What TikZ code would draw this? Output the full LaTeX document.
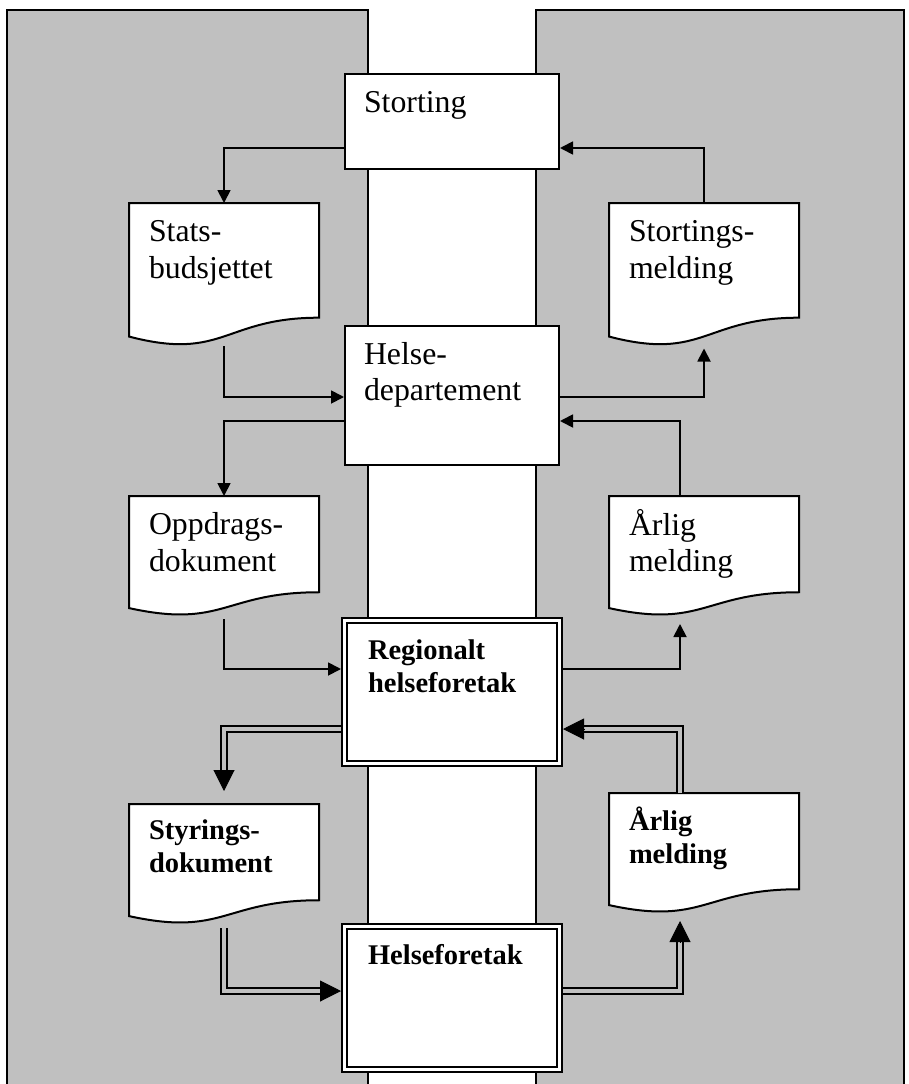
\documentclass[tikz,border=0pt]{standalone}
\usepackage{fontspec}
\setmainfont{Liberation Serif}
\usetikzlibrary{arrows.meta,calc}

\pgfdeclarelayer{panels}
\pgfdeclarelayer{shapes}
\pgfsetlayers{panels,shapes,main}

\definecolor{panelgray}{HTML}{C0C0C0}

\tikzset{
  every node/.style={inner sep=0pt, outer sep=0pt},
  panel/.style={fill=panelgray},
  paneledge/.style={draw, line width=2pt},
  plainbox/.style={rectangle, draw, fill=white, line width=2pt, outer sep=1pt},
  heavybox/.style={rectangle, draw, fill=white, line width=2.3pt,
    double=white, double distance=2.4pt, outer sep=3.5pt},
  docnode/.style={rectangle, anchor=north west, minimum width=190pt},
  docline/.style={draw, fill=white, line width=2pt, line join=miter},
  txt/.style={anchor=north west, align=left, font=\fontsize{31.8}{36.5}\selectfont},
  btxt/.style={anchor=north west, align=left, font=\bfseries\fontsize{28.5}{33}\selectfont},
  conn/.style={draw, line width=1.8pt, -{Triangle[length=13pt,width=13pt]}},
  dblline/.style={draw, line width=2pt, double=panelgray, double distance=4pt,
    shorten >=20pt},
  dbltip/.style={draw, line width=1pt, -{Triangle[length=21pt,width=21pt]}}
}

% outline of a flowchart "document" shape with a wavy bottom edge
\newcommand\docoutline[1]{%
  \path[docline] (#1.north west) -- (#1.north east)
    -- ($(#1.north east)!0.802!(#1.south east)$)
    .. controls ($(#1.north)!0.802!(#1.south)$) and ($(#1.north)!1.1075!(#1.south)$)
    .. ($(#1.north west)!0.934!(#1.south west)$) -- cycle;}

\begin{document}
\begin{tikzpicture}[x=1pt, y=-1pt]
\useasboundingbox (0,0) rectangle (909,1084);

% grey side panels and the white centre strip between them
\begin{pgfonlayer}{panels}
  \fill[panel] (7,10) rectangle (368,1090);
  \fill[panel] (536,10) rectangle (904,1090);
  \draw[paneledge] (7,1090) -- (7,10) -- (368,10) -- (368,1090);
  \draw[paneledge] (536,1090) -- (536,10) -- (904,10) -- (904,1090);
\end{pgfonlayer}

% organisations
\node[plainbox, minimum width=214pt, minimum height=95pt] (storting) at (452,121.5) {};
\node[plainbox, minimum width=214pt, minimum height=139pt] (helse) at (452,395.5) {};
\node[heavybox, minimum width=215pt, minimum height=143pt] (reg) at (452,692) {};
\node[heavybox, minimum width=215pt, minimum height=143pt] (hf) at (452,998) {};

% documents
\node[docnode, minimum height=143pt] (stats) at (129,203) {};
\node[docnode, minimum height=143pt] (stm) at (609,203) {};
\node[docnode, minimum height=120pt] (opp) at (129,496) {};
\node[docnode, minimum height=120pt] (arl1) at (609,496) {};
\node[docnode, minimum height=120pt] (sty) at (129,804) {};
\node[docnode, minimum height=120pt] (arl2) at (609,793) {};

\begin{pgfonlayer}{shapes}
  \docoutline{stats}
  \docoutline{stm}
  \docoutline{opp}
  \docoutline{arl1}
  \docoutline{sty}
  \docoutline{arl2}
\end{pgfonlayer}

% texts
\node[txt] (storting-t) at ([xshift=20pt,yshift=-14.4pt]storting.north west) {\strut Storting};
\node[txt] (helse-t) at ([xshift=20pt,yshift=-13.9pt]helse.north west) {\strut Helse-\\departement};
\node[txt] (stats-t) at ([xshift=20pt,yshift=-13.4pt]stats.north west) {\strut Stats-\\budsjettet};
\node[txt] (stm-t) at ([xshift=20pt,yshift=-13.4pt]stm.north west) {\strut Stortings-\\melding};
\node[txt] (opp-t) at ([xshift=20pt,yshift=-13.4pt]opp.north west) {\strut Oppdrags-\\dokument};
\node[txt] (arl1-t) at ([xshift=20pt,yshift=-13.4pt]arl1.north west) {\strut Årlig\\melding};
\node[btxt] (reg-t) at ([xshift=27pt,yshift=-18.9pt]reg.north west) {\strut Regionalt\\helseforetak};
\node[btxt] (hf-t) at ([xshift=27pt,yshift=-17.9pt]hf.north west) {\strut Helseforetak};
\node[btxt] (sty-t) at ([xshift=20pt,yshift=-11.9pt]sty.north west) {\strut Styrings-\\dokument};
\node[btxt] (arl2-t) at ([xshift=20pt,yshift=-13.9pt]arl2.north west) {\strut Årlig\\melding};

% single-line flows
\draw[conn] ([yshift=22pt]storting.south west) -| (stats.north);
\draw[conn] (stm.north) |- ([yshift=22pt]storting.south east);
\draw[conn] (stats.south) |- ([yshift=-1.5pt]helse.west);
\draw[conn] ([yshift=-1.5pt]helse.east) -| ([yshift=-2.5pt]stm.south);
\draw[conn] ([yshift=-25.5pt]helse.west) -| (opp.north);
\draw[conn] ([xshift=-24pt]arl1.north) |- ([yshift=-25.5pt]helse.east);
\draw[conn] ([yshift=-3pt]opp.south) |- ([yshift=23pt]reg.west);
\draw[conn] ([yshift=23pt]reg.east) -| ([xshift=-24pt,yshift=-8pt]arl1.south);

% double-line flows
\coordinate (sty-in) at ([yshift=13pt]sty.north);
\coordinate (reg-in) at ([yshift=-37pt]reg.east);
\coordinate (hf-in) at ([yshift=7pt]hf.west);
\coordinate (arl2-in) at ([xshift=-24pt,yshift=-8pt]arl2.south);

\draw[dblline] ([yshift=-37pt]reg.west) -| (sty-in);
\draw[dbltip] ([yshift=21pt]sty-in) -- (sty-in);

\draw[dblline] ([xshift=-24pt]arl2.north) |- (reg-in);
\draw[dbltip] ([xshift=21pt]reg-in) -- (reg-in);

\draw[dblline] ([yshift=-4pt]sty.south) |- (hf-in);
\draw[dbltip] ([xshift=-21pt]hf-in) -- (hf-in);

\draw[dblline] ([yshift=7pt]hf.east) -| (arl2-in);
\draw[dbltip] ([yshift=-21pt]arl2-in) -- (arl2-in);
\end{tikzpicture}
\end{document}
